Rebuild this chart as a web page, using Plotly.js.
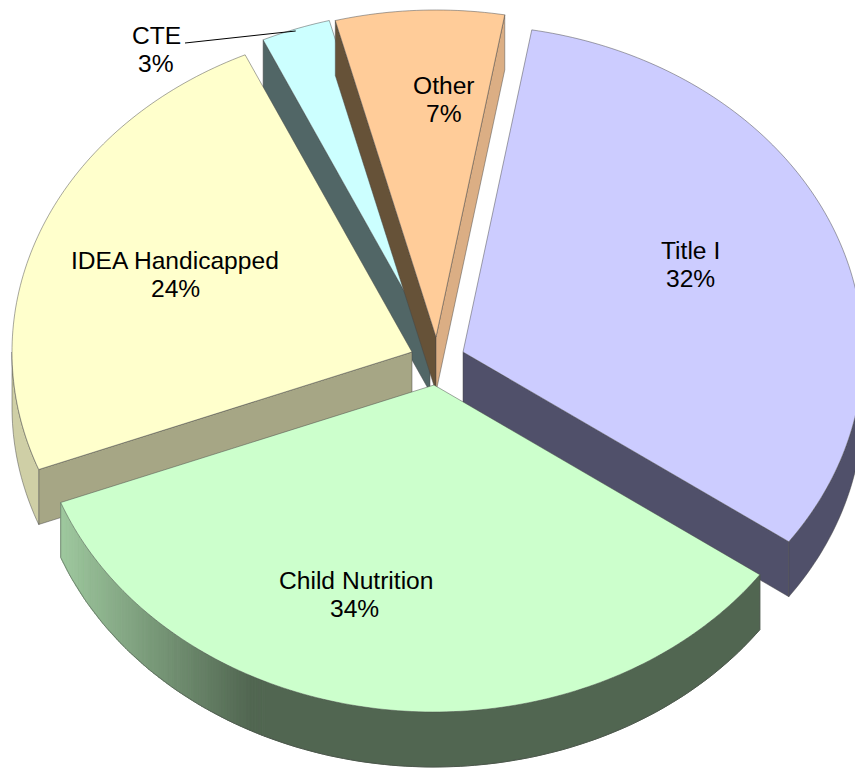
<!DOCTYPE html>
<html>
<head>
<meta charset="utf-8">
<script src="https://cdn.plot.ly/plotly-3.0.1.min.js"></script>
<style>html,body{margin:0;padding:0;background:#fff}#chart{width:855px;height:768px}</style>
</head>
<body>
<div id="chart"></div>
<script>
// Data
const categories = ["Title I", "Child Nutrition", "IDEA Handicapped", "CTE", "Other"];
const shares = [32.1, 34.3, 24.0, 2.8, 6.8];

// Styles (null = that side of the slice cannot be seen)
const topColors = ["#ccccff", "#ccffcc", "#ffffcc", "#ccffff", "#ffcc99"];
const startFaceColors = [null, null, "#a6a685", "#516666", "#665238"];
const endFaceColors = ["#50506a", null, null, null, "#dbae84"];
const rimColors = ["#50506a", null, "#cfcfa6", "#516666", "#dbae84"];

// Projection and exploded-pie settings
const firstAngle = 9.9, radiusX = 400, radiusY = 327, depth = 55;
const centersX = [463, 434, 412, 430, 436];
const centersY = [352, 385, 352, 337, 337];
const drawOrder = [3, 4, 2, 0, 1];
const textX = [690, 356, 175, 156, 444];
const textY = [250, 580, 260, 35, 85];
const pctShiftX = [0, -2, 0, 0, 0];
const EDGE = "rgba(70,70,70,0.6)";

const rad = d => d * Math.PI / 180;
const px = (i, t) => centersX[i] + radiusX * Math.sin(rad(t));
const py = (i, t) => centersY[i] - radiusY * Math.cos(rad(t));

const traces = [];
function poly(xs, ys, fill, lineColor, lineWidth) {
  traces.push({
    type: "scatter", mode: "lines", x: xs, y: ys, fill: "toself", fillcolor: fill,
    line: {color: lineColor, width: lineWidth, simplify: false}, hoverinfo: "skip", showlegend: false
  });
}
function arc(i, a, b, dy) {
  const n = Math.max(2, Math.ceil(Math.abs(b - a)));
  const xs = [], ys = [];
  for (let k = 0; k <= n; k++) {
    const t = a + (b - a) * k / n;
    xs.push(px(i, t)); ys.push(py(i, t) + dy);
  }
  return [xs, ys];
}
function radialFace(i, t, color) {
  const x0 = centersX[i], y0 = centersY[i], x1 = px(i, t), y1 = py(i, t);
  poly([x0, x1, x1, x0, x0], [y0, y1, y1 + depth, y0 + depth, y0], color, EDGE, 0.8);
}
function rim(i, a, b, color, lineColor, lineWidth) {
  const [xa, ya] = arc(i, a, b, 0), [xb, yb] = arc(i, b, a, depth);
  poly(xa.concat(xb, [xa[0]]), ya.concat(yb, [ya[0]]), color, lineColor, lineWidth);
}
function shade(x) {
  // Child Nutrition rim: light at the left, dark from about x = 250 rightwards
  const f = Math.min(1, Math.max(0, (x - 62) / 190));
  const c = (a, b) => Math.round(a + (b - a) * f);
  return `rgb(${c(158, 81)},${c(200, 102)},${c(158, 81)})`;
}

let start = firstAngle;
const ranges = shares.map(s => { const r = [start, start + s * 3.6]; start = r[1]; return r; });

drawOrder.forEach(i => {
  const [a, b] = ranges[i];
  if (startFaceColors[i]) radialFace(i, a, startFaceColors[i]);
  if (endFaceColors[i]) radialFace(i, b, endFaceColors[i]);
  const frontA = Math.max(a, 90), frontB = Math.min(b, 270);
  if (frontB > frontA) {
    if (rimColors[i]) {
      rim(i, frontA, frontB, rimColors[i], EDGE, 0.8);
    } else {
      // dark part of the rim in one piece, then the gradient in fine steps
      const tDark = 205;
      const dark = shade(px(i, tDark));
      rim(i, frontA, tDark, dark, dark, 1);
      const step = 0.5;
      for (let t = frontB; t > tDark; t -= step) {
        const t2 = Math.max(tDark, t - step);
        const col = shade(px(i, (t + t2) / 2));
        rim(i, t2, t, col, col, 1);
      }
      // rim outline
      const [xb, yb] = arc(i, frontA, frontB, depth);
      traces.push({type: "scatter", mode: "lines",
        x: [px(i, frontA)].concat(xb, [px(i, frontB)]),
        y: [py(i, frontA)].concat(yb, [py(i, frontB)]),
        line: {color: EDGE, width: 0.8}, hoverinfo: "skip", showlegend: false});
    }
  }
  const [xt, yt] = arc(i, a, b, 0);
  poly([centersX[i]].concat(xt, [centersX[i]]), [centersY[i]].concat(yt, [centersY[i]]), topColors[i], EDGE, 0.8);
});

// CTE leader line
const cteMid = (ranges[3][0] + ranges[3][1]) / 2;
traces.push({type: "scatter", mode: "lines",
  x: [textX[3] + 29, px(3, cteMid)], y: [textY[3] + 8, py(3, cteMid) + 2],
  line: {color: "#000", width: 1}, hoverinfo: "skip", showlegend: false});

const FONT = {family: "Liberation Sans, Arial, sans-serif", size: 24.6, color: "#000"};
const LINE_GAP = 28.5;
const annotations = [];
categories.forEach((c, i) => {
  annotations.push({x: textX[i], y: textY[i], xref: "x", yref: "y", text: c, showarrow: false, font: FONT});
  annotations.push({x: textX[i] + pctShiftX[i], y: textY[i] + LINE_GAP, xref: "x", yref: "y",
    text: Math.round(shares[i]) + "%", showarrow: false, font: FONT});
});

const hidden = {visible: false, fixedrange: true};
Plotly.newPlot("chart", traces, {
  width: 855, height: 768,
  margin: {l: 0, r: 0, t: 0, b: 0},
  paper_bgcolor: "#fff", plot_bgcolor: "#fff",
  showlegend: false,
  xaxis: Object.assign({range: [0, 855]}, hidden),
  yaxis: Object.assign({range: [768, 0]}, hidden),
  annotations
}, {displayModeBar: false, staticPlot: true});
</script>
</body>
</html>
